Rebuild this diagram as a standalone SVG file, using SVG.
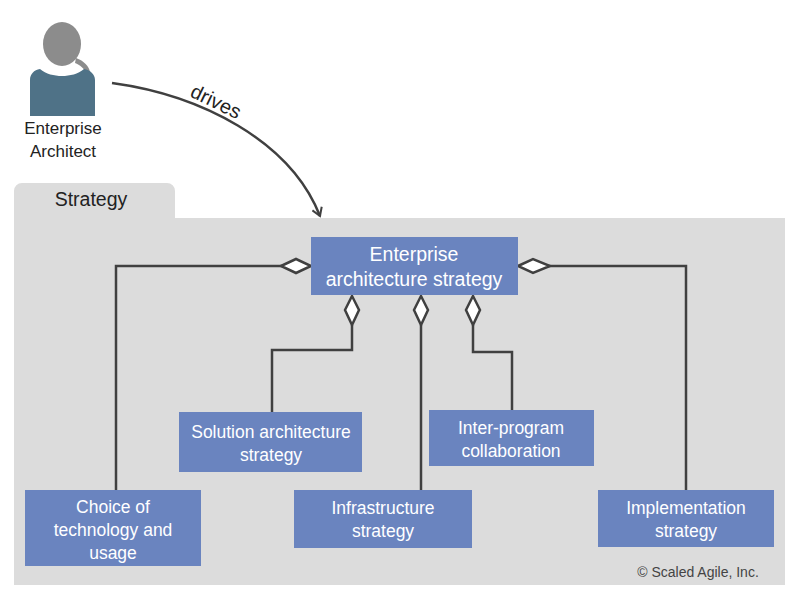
<svg xmlns="http://www.w3.org/2000/svg" width="800" height="598" viewBox="0 0 800 598">
<style>
.box{fill:#6a84bf}
.bt{font-family:"Liberation Sans",Arial,sans-serif;font-size:17.5px;fill:#fff;text-anchor:middle}
.big{font-size:19.5px}
.ln{fill:none;stroke:#404040;stroke-width:2.5}
.dm{fill:#fff;stroke:#404040;stroke-width:2.5}
.t{font-family:"Liberation Sans",Arial,sans-serif;fill:#222}
</style>
<defs>
<marker id="ah" markerWidth="12" markerHeight="12" refX="9" refY="6" orient="auto" markerUnits="userSpaceOnUse"><path d="M1,1 L9,6 L1,11" fill="none" stroke="#404040" stroke-width="2"/></marker>
</defs>
<rect width="800" height="598" fill="#fff"/>
<g id="strategy-panel">
<path d="M14,218 V191 a8,8 0 0 1 8,-8 H167 a8,8 0 0 1 8,8 V218 H785 V585 H14 Z" fill="#dcdcdc"/>
<text class="t" x="91" y="206" style="font-size:19.5px" text-anchor="middle">Strategy</text>
<text class="t" x="698" y="577" style="font-size:14px;fill:#444" text-anchor="middle">© Scaled Agile, Inc.</text>
</g>
<g id="architect">
<path d="M76,58 c8,3 13,8 14,14 l-4,1 c-2,-5 -6,-8 -11,-10 z" fill="#8c8c8c"/>
<ellipse cx="62" cy="44" rx="19" ry="22" fill="#8c8c8c"/>
<path d="M30,80 c0,-6 4,-10 10,-11 c6,5 14,7 22,7 c8,0 16,-2 22,-7 c6,1 11,5 11,11 V116 H30 Z" fill="#4f7287"/>
<text class="t" x="63" y="134" style="font-size:17px" text-anchor="middle">Enterprise</text>
<text class="t" x="63" y="157" style="font-size:17px" text-anchor="middle">Architect</text>
</g>
<g id="connectors">
<path class="ln" d="M112,83 C200,95 290,140 320,216" marker-end="url(#ah)"/>
<text class="t" x="0" y="0" style="font-size:20px" transform="translate(189,96) rotate(26)">drives</text>
<path class="ln" d="M283,266 H116 V490"/>
<path class="ln" d="M548,266 H686 V490"/>
<path class="ln" d="M352,325 V350 H272 V412"/>
<path class="ln" d="M421,325 V490"/>
<path class="ln" d="M473,325 V352 H512 V410"/>
<path class="dm" d="M281,266 L296,259 L311,266 L296,273 Z"/>
<path class="dm" d="M518,266 L533,259 L550,266 L533,273 Z"/>
<path class="dm" d="M352,296 L359,310 L352,325 L345,310 Z"/>
<path class="dm" d="M421,296 L428,310 L421,325 L414,310 Z"/>
<path class="dm" d="M473,296 L480,310 L473,325 L466,310 Z"/>
</g>
<g id="ea-strategy"><rect class="box" x="311" y="237" width="207" height="58"/>
<text class="bt big" x="414" y="261">Enterprise</text><text class="bt big" x="414" y="286">architecture strategy</text></g>
<g id="solution"><rect class="box" x="179" y="412" width="183" height="60"/>
<text class="bt" x="271" y="438">Solution architecture</text><text class="bt" x="271" y="461">strategy</text></g>
<g id="inter-program"><rect class="box" x="429" y="410" width="165" height="56"/>
<text class="bt" x="511" y="434">Inter-program</text><text class="bt" x="511" y="457">collaboration</text></g>
<g id="choice"><rect class="box" x="25" y="490" width="176" height="76"/>
<text class="bt" x="113" y="513">Choice of</text><text class="bt" x="113" y="536">technology and</text><text class="bt" x="113" y="559">usage</text></g>
<g id="infrastructure"><rect class="box" x="294" y="490" width="178" height="58"/>
<text class="bt" x="383" y="514">Infrastructure</text><text class="bt" x="383" y="537">strategy</text></g>
<g id="implementation"><rect class="box" x="598" y="490" width="176" height="57"/>
<text class="bt" x="686" y="514">Implementation</text><text class="bt" x="686" y="537">strategy</text></g>
</svg>
